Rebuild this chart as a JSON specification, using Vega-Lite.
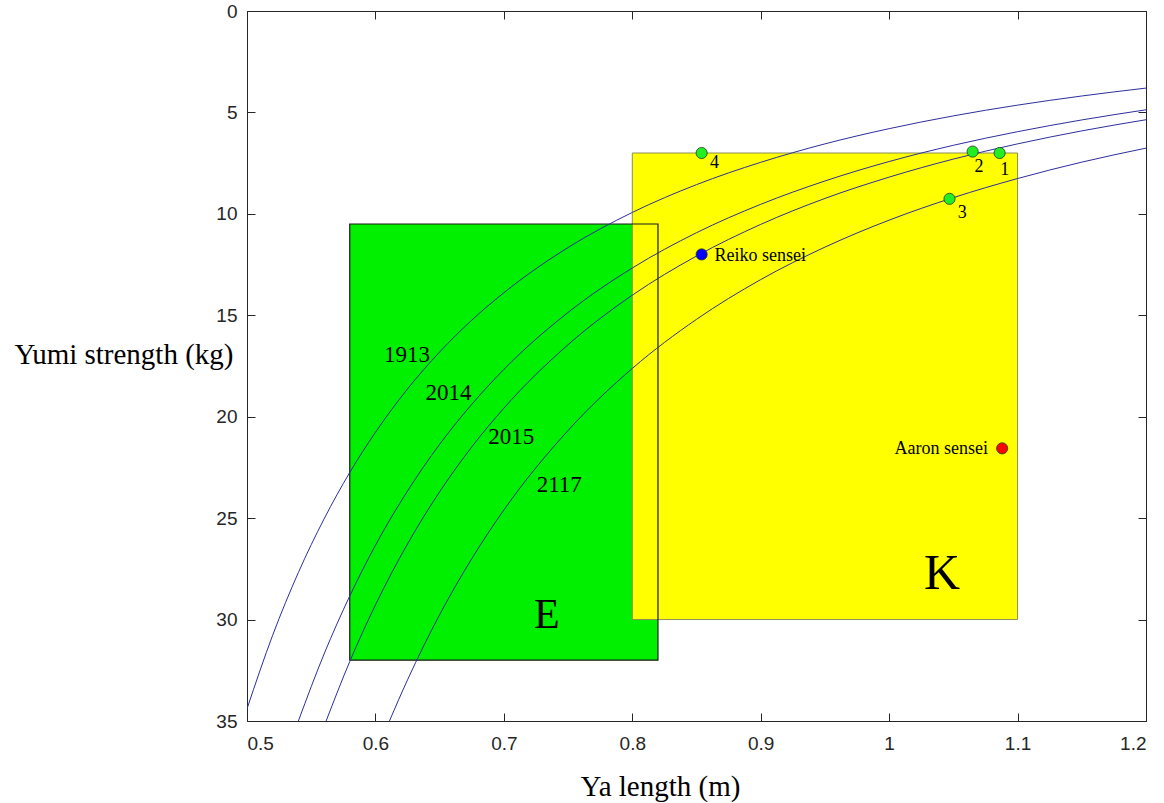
{
  "$schema": "https://vega.github.io/schema/vega-lite/v6.json",
  "autosize": {"type": "none"},
  "padding": {"left": 247, "top": 11, "right": 18, "bottom": 82},
  "width": 899,
  "height": 710,
  "background": "white",
  "config": {
    "view": {"stroke": "#262626", "strokeWidth": 1},
    "axis": {
      "domain": false,
      "grid": false,
      "tickColor": "#262626",
      "tickSize": -8,
      "tickWidth": 1,
      "labelFont": "Liberation Sans",
      "labelFontSize": 19,
      "labelColor": "#262626",
      "titleFont": "Liberation Serif",
      "titleFontSize": 29,
      "titleFontWeight": "normal",
      "titleColor": "#000000"
    }
  },
  "resolve": {"axis": {"x": "independent", "y": "independent"}},
  "layer": [
    {
      "data": {"values": [{"box": "E", "x1": 0.58, "x2": 0.82, "y1": 10.5, "y2": 32}]},
      "mark": {"type": "rect", "fill": "#00f000", "strokeWidth": 0},
      "encoding": {
        "x": {"field": "x1", "type": "quantitative", "scale": {"domain": [0.5, 1.2], "nice": false, "zero": false},
              "axis": {"orient": "bottom", "values": [0.5, 0.6, 0.7, 0.8, 0.9, 1, 1.1, 1.2], "format": "~g", "labelPadding": 21, "title": "Ya length (m)", "titleX": 413, "titleY": 74, "titleAlign": "center", "titleBaseline": "alphabetic"}},
        "x2": {"field": "x2"},
        "y": {"field": "y1", "type": "quantitative", "scale": {"domain": [0, 35], "nice": false, "zero": true, "reverse": true},
              "axis": {"orient": "left", "values": [0, 5, 10, 15, 20, 25, 30, 35], "labelPadding": 18, "title": "Yumi strength (kg)", "titleAngle": 0, "titleAlign": "right", "titleBaseline": "alphabetic", "titleX": -14, "titleY": 352}},
        "y2": {"field": "y2"}
      }
    },
    {
      "data": {"values": [{"box": "K", "x1": 0.8, "x2": 1.1, "y1": 7, "y2": 30}]},
      "mark": {"type": "rect", "fill": "#ffff00", "stroke": "#8c8c5a", "strokeWidth": 1},
      "encoding": {
        "x": {"field": "x1", "type": "quantitative", "axis": {"orient": "top", "values": [0.5, 0.6, 0.7, 0.8, 0.9, 1, 1.1, 1.2], "labels": false, "title": null}},
        "x2": {"field": "x2"},
        "y": {"field": "y1", "type": "quantitative", "axis": {"orient": "right", "values": [0, 5, 10, 15, 20, 25, 30, 35], "labels": false, "title": null}},
        "y2": {"field": "y2"}
      }
    },
    {
      "data": {"values": [{"box": "E", "x1": 0.58, "x2": 0.82, "y1": 10.5, "y2": 32}]},
      "mark": {"type": "rect", "fill": null, "fillOpacity": 0, "stroke": "#1a1a1a", "strokeWidth": 1.2},
      "encoding": {
        "x": {"field": "x1", "type": "quantitative", "axis": null},
        "x2": {"field": "x2"},
        "y": {"field": "y1", "type": "quantitative", "axis": null},
        "y2": {"field": "y2"}
      }
    },
    {
      "data": {"values": [
        {"curve": "1913", "L": 0.5, "S": 34.40}, {"curve": "1913", "L": 0.52, "S": 30.77}, {"curve": "1913", "L": 0.54, "S": 27.68}, {"curve": "1913", "L": 0.56, "S": 25.04}, {"curve": "1913", "L": 0.58, "S": 22.75}, {"curve": "1913", "L": 0.6, "S": 20.77}, {"curve": "1913", "L": 0.625, "S": 18.63}, {"curve": "1913", "L": 0.65, "S": 16.81}, {"curve": "1913", "L": 0.675, "S": 15.24}, {"curve": "1913", "L": 0.7, "S": 13.89}, {"curve": "1913", "L": 0.75, "S": 11.66}, {"curve": "1913", "L": 0.8, "S": 9.93}, {"curve": "1913", "L": 0.85, "S": 8.56}, {"curve": "1913", "L": 0.9, "S": 7.46}, {"curve": "1913", "L": 0.95, "S": 6.55}, {"curve": "1913", "L": 1.0, "S": 5.80}, {"curve": "1913", "L": 1.05, "S": 5.17}, {"curve": "1913", "L": 1.1, "S": 4.64}, {"curve": "1913", "L": 1.15, "S": 4.19}, {"curve": "1913", "L": 1.2, "S": 3.80},
        {"curve": "2014", "L": 0.54, "S": 35.0}, {"curve": "2014", "L": 0.56, "S": 31.70}, {"curve": "2014", "L": 0.58, "S": 28.84}, {"curve": "2014", "L": 0.6, "S": 26.34}, {"curve": "2014", "L": 0.625, "S": 23.66}, {"curve": "2014", "L": 0.65, "S": 21.36}, {"curve": "2014", "L": 0.675, "S": 19.39}, {"curve": "2014", "L": 0.7, "S": 17.67}, {"curve": "2014", "L": 0.75, "S": 14.86}, {"curve": "2014", "L": 0.8, "S": 12.67}, {"curve": "2014", "L": 0.85, "S": 10.93}, {"curve": "2014", "L": 0.9, "S": 9.53}, {"curve": "2014", "L": 0.95, "S": 8.38}, {"curve": "2014", "L": 1.0, "S": 7.42}, {"curve": "2014", "L": 1.05, "S": 6.62}, {"curve": "2014", "L": 1.1, "S": 5.95}, {"curve": "2014", "L": 1.15, "S": 5.37}, {"curve": "2014", "L": 1.2, "S": 4.87},
        {"curve": "2015", "L": 0.5616, "S": 35.0}, {"curve": "2015", "L": 0.58, "S": 32.07}, {"curve": "2015", "L": 0.6, "S": 29.28}, {"curve": "2015", "L": 0.625, "S": 26.27}, {"curve": "2015", "L": 0.65, "S": 23.70}, {"curve": "2015", "L": 0.675, "S": 21.49}, {"curve": "2015", "L": 0.7, "S": 19.58}, {"curve": "2015", "L": 0.75, "S": 16.45}, {"curve": "2015", "L": 0.8, "S": 14.01}, {"curve": "2015", "L": 0.85, "S": 12.08}, {"curve": "2015", "L": 0.9, "S": 10.52}, {"curve": "2015", "L": 0.95, "S": 9.24}, {"curve": "2015", "L": 1.0, "S": 8.19}, {"curve": "2015", "L": 1.05, "S": 7.30}, {"curve": "2015", "L": 1.1, "S": 6.55}, {"curve": "2015", "L": 1.15, "S": 5.91}, {"curve": "2015", "L": 1.2, "S": 5.36},
        {"curve": "2117", "L": 0.6109, "S": 35.0}, {"curve": "2117", "L": 0.625, "S": 32.97}, {"curve": "2117", "L": 0.65, "S": 29.76}, {"curve": "2117", "L": 0.675, "S": 27.00}, {"curve": "2117", "L": 0.7, "S": 24.60}, {"curve": "2117", "L": 0.75, "S": 20.68}, {"curve": "2117", "L": 0.8, "S": 17.62}, {"curve": "2117", "L": 0.85, "S": 15.20}, {"curve": "2117", "L": 0.9, "S": 13.24}, {"curve": "2117", "L": 0.95, "S": 11.64}, {"curve": "2117", "L": 1.0, "S": 10.31}, {"curve": "2117", "L": 1.05, "S": 9.20}, {"curve": "2117", "L": 1.1, "S": 8.26}, {"curve": "2117", "L": 1.15, "S": 7.45}, {"curve": "2117", "L": 1.2, "S": 6.76}
      ]},
      "mark": {"type": "line", "color": "#2e2e9e", "strokeWidth": 1, "interpolate": "monotone", "clip": true},
      "encoding": {
        "x": {"field": "L", "type": "quantitative", "axis": null},
        "y": {"field": "S", "type": "quantitative", "axis": null},
        "detail": {"field": "curve", "type": "nominal"}
      }
    },
    {
      "data": {"values": [
        {"name": "1", "group": "arrow", "L": 1.086, "S": 7.0},
        {"name": "2", "group": "arrow", "L": 1.065, "S": 6.93},
        {"name": "3", "group": "arrow", "L": 1.047, "S": 9.26},
        {"name": "4", "group": "arrow", "L": 0.854, "S": 7.0},
        {"name": "Reiko sensei", "group": "Reiko", "L": 0.854, "S": 12.0},
        {"name": "Aaron sensei", "group": "Aaron", "L": 1.088, "S": 21.56}
      ]},
      "mark": {"type": "circle", "size": 125, "opacity": 1, "stroke": "#1f3a1f", "strokeWidth": 0.8},
      "encoding": {
        "x": {"field": "L", "type": "quantitative", "axis": null},
        "y": {"field": "S", "type": "quantitative", "axis": null},
        "fill": {"field": "group", "type": "nominal", "scale": {"domain": ["arrow", "Reiko", "Aaron"], "range": ["#22ee22", "#0000ff", "#ff0000"]}, "legend": null}
      }
    },
    {
      "data": {"values": [
        {"label": "4", "L": 0.864, "S": 7.48},
        {"label": "2", "L": 1.070, "S": 7.67},
        {"label": "1", "L": 1.090, "S": 7.86},
        {"label": "3", "L": 1.057, "S": 9.94}
      ]},
      "mark": {"type": "text", "font": "Liberation Serif", "fontSize": 18, "align": "center", "baseline": "middle", "color": "#000000"},
      "encoding": {
        "x": {"field": "L", "type": "quantitative", "axis": null},
        "y": {"field": "S", "type": "quantitative", "axis": null},
        "text": {"field": "label"}
      }
    },
    {
      "data": {"values": [{"label": "Reiko sensei", "L": 0.864, "S": 12.07}]},
      "mark": {"type": "text", "font": "Liberation Serif", "fontSize": 18, "align": "left", "baseline": "middle", "color": "#000000"},
      "encoding": {
        "x": {"field": "L", "type": "quantitative", "axis": null},
        "y": {"field": "S", "type": "quantitative", "axis": null},
        "text": {"field": "label"}
      }
    },
    {
      "data": {"values": [{"label": "Aaron sensei", "L": 1.077, "S": 21.61}]},
      "mark": {"type": "text", "font": "Liberation Serif", "fontSize": 18, "align": "right", "baseline": "middle", "color": "#000000"},
      "encoding": {
        "x": {"field": "L", "type": "quantitative", "axis": null},
        "y": {"field": "S", "type": "quantitative", "axis": null},
        "text": {"field": "label"}
      }
    },
    {
      "data": {"values": [
        {"label": "1913", "L": 0.6245, "S": 16.95},
        {"label": "2014", "L": 0.6569, "S": 18.82},
        {"label": "2015", "L": 0.7057, "S": 21.02},
        {"label": "2117", "L": 0.7431, "S": 23.37}
      ]},
      "mark": {"type": "text", "font": "Liberation Serif", "fontSize": 23, "align": "center", "baseline": "middle", "color": "#000000"},
      "encoding": {
        "x": {"field": "L", "type": "quantitative", "axis": null},
        "y": {"field": "S", "type": "quantitative", "axis": null},
        "text": {"field": "label"}
      }
    },
    {
      "data": {"values": [
        {"label": "E", "L": 0.7335, "S": 29.78, "size": "E"},
        {"label": "K", "L": 1.0411, "S": 27.73, "size": "K"}
      ]},
      "mark": {"type": "text", "font": "Liberation Serif", "align": "center", "baseline": "middle", "color": "#000000"},
      "encoding": {
        "x": {"field": "L", "type": "quantitative", "axis": null},
        "y": {"field": "S", "type": "quantitative", "axis": null},
        "text": {"field": "label"},
        "size": {"field": "size", "type": "nominal", "scale": {"domain": ["E", "K"], "range": [42, 50]}, "legend": null}
      }
    }
  ]
}
